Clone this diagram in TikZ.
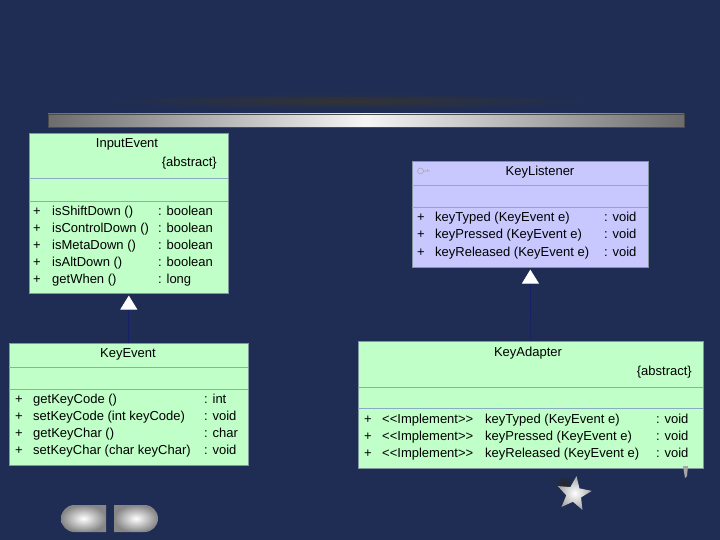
\documentclass[tikz,border=0pt]{standalone}
\usepackage{fontspec}
\setmainfont{Liberation Sans}
\usetikzlibrary{arrows.meta,shapes.geometric}
\definecolor{bg}{RGB}{31,45,84}
\definecolor{mint}{RGB}{192,255,200}
\definecolor{lav}{RGB}{200,200,255}
\definecolor{sepc}{RGB}{140,170,195}
\definecolor{edgec}{RGB}{130,150,160}
\definecolor{linkc}{RGB}{22,32,105}
\begin{document}
\begin{tikzpicture}[x=1pt,y=-1pt,
  classbox/.style={draw=edgec, line width=0.6pt, anchor=north west, inner sep=0pt},
  sep/.style={draw=sepc, line width=0.7pt},
  txt/.style={anchor=base west, inner sep=0pt, font=\fontsize{13}{15}\selectfont},
  txtc/.style={txt, anchor=base},
  txte/.style={txt, anchor=base east},
  gen/.style={draw=linkc, line width=0.8pt, shorten >=2pt,
    -{Triangle[color=white, length=14pt, width=17pt]}},
  btn/.style={inner color=white, outer color=gray!95}]
\useasboundingbox (0,0) rectangle (720,540);
\fill[bg] (0,0) rectangle (720,540);
% title shadow and bar
\shade[inner color=black!80, outer color=bg] (95,93) rectangle (600,109);
\shade[left color=gray!85!black, right color=gray!85!black, middle color=white!92!gray] (48,114) rectangle (684,127);
\draw[gray!60!black, line width=0.4pt] (48,114) rectangle (684,127);

% InputEvent
\node[classbox, fill=mint, minimum width=199pt, minimum height=160pt] (inputevent) at (29,133) {};
\draw[sep] (29,178) -- (228,178);
\draw[sep] (29,201) -- (228,201);
\node[txtc] (ie-t) at (127,148) {InputEvent};
\node[txte] (ie-a) at (217,167) {\{abstract\}};
\foreach \y/\m/\r [count=\i] in {215.5/isShiftDown ()/: boolean, 232.5/isControlDown ()/: boolean, 249.5/isMetaDown ()/: boolean, 266.5/isAltDown ()/: boolean, 283.5/getWhen ()/: long}{
  \node[txt] (ie-p\i) at (33,\y) {+};
  \node[txt] (ie-m\i) at (52,\y) {\m};
  \node[txt] (ie-r\i) at (158,\y) {\r};
}

% KeyEvent
\node[classbox, fill=mint, minimum width=239pt, minimum height=122pt] (keyevent) at (9,343) {};
\draw[sep] (9,367) -- (248,367);
\draw[sep] (9,389) -- (248,389);
\node[txtc] (ke-t) at (128,357.5) {KeyEvent};
\foreach \y/\m/\r [count=\i] in {403.5/getKeyCode ()/: int, 420.5/setKeyCode (int keyCode)/: void, 437.5/getKeyChar ()/: char, 454.5/setKeyChar (char keyChar)/: void}{
  \node[txt] (ke-p\i) at (15,\y) {+};
  \node[txt] (ke-m\i) at (33,\y) {\m};
  \node[txt] (ke-r\i) at (204,\y) {\r};
}

% KeyListener
\node[classbox, fill=lav, minimum width=236pt, minimum height=106pt] (keylistener) at (412,161) {};
\draw[sep] (412,185) -- (648,185);
\draw[sep] (412,207) -- (648,207);
\draw[gray!70, line width=0.6pt] (420.5,171) circle (3pt) (423.5,171) -- (430,171) (427.5,169.5) -- (427.5,171);
\node[txtc] (kl-t) at (540,175.5) {KeyListener};
\foreach \y/\m/\r [count=\i] in {222/keyTyped (KeyEvent e)/: void, 239/keyPressed (KeyEvent e)/: void, 256/keyReleased (KeyEvent e)/: void}{
  \node[txt] (kl-p\i) at (417,\y) {+};
  \node[txt] (kl-m\i) at (435,\y) {\m};
  \node[txt] (kl-r\i) at (604,\y) {\r};
}

% KeyAdapter
\node[classbox, fill=mint, minimum width=345pt, minimum height=127pt] (keyadapter) at (358,341) {};
\draw[sep] (358,387) -- (703,387);
\draw[sep] (358,408) -- (703,408);
\node[txtc] (ka-t) at (528,356.5) {KeyAdapter};
\node[txte] (ka-a) at (692,375.5) {\{abstract\}};
\foreach \y/\m/\r [count=\i] in {423.5/keyTyped (KeyEvent e)/: void, 440.5/keyPressed (KeyEvent e)/: void, 457.5/keyReleased (KeyEvent e)/: void}{
  \node[txt] (ka-p\i) at (364,\y) {+};
  \node[txt] (ka-s\i) at (382,\y) {<\kern0pt<Implement>\kern0pt>};
  \node[txt] (ka-m\i) at (485,\y) {\m};
  \node[txt] (ka-r\i) at (656,\y) {\r};
}

% generalisation / realisation connectors
\draw[gen] (keyevent.north) -- (inputevent.south);
\draw[gen] (keyadapter.north) -- (keylistener.south);

% decorations
\shade[inner color=black!85, outer color=bg] (564,484) circle (9pt);
\node[star, star points=5, star point ratio=2.3, minimum size=36pt, inner sep=0pt,
  shading=radial, inner color=white, outer color=gray!70, rotate=-8] (star) at (574,494) {};
\fill[gray!70] (683,466) -- (688,466) -- (687,476) -- (685,478) -- cycle;

% nav buttons
\shade[btn] (106,505) -- (74.5,505) arc[start angle=270, end angle=90, radius=13.5] -- (106,532) -- cycle;
\shade[btn] (114,532) -- (114,505) -- (144.5,505) arc[start angle=-90, end angle=90, radius=13.5] -- cycle;
\end{tikzpicture}
\end{document}
